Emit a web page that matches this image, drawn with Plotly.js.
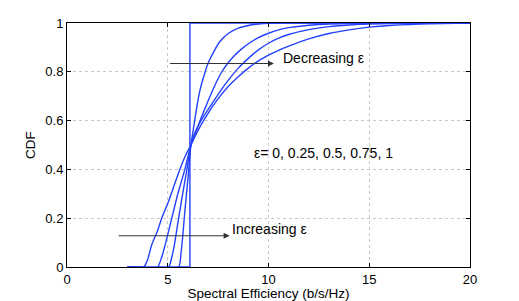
<!DOCTYPE html>
<html>
<head>
<meta charset="utf-8">
<script src="https://cdn.plot.ly/plotly-3.0.1.min.js"></script>
<style>html,body{margin:0;padding:0;background:#fff;}#chart{width:519px;height:301px;}</style>
</head>
<body>
<div id="chart"></div>
<script>
// eps = 0 (ideal step)
const x_e0 = [3, 6.1, 6.1, 20];
const y_e0 = [0, 0, 1, 1];
// eps = 0.25
const x_e25 = [3, 5.55, 5.65, 5.75, 5.85, 6.0, 6.15, 6.3, 6.45, 6.6, 6.8, 7.0, 7.3, 7.6, 8.0, 8.5, 9.0, 9.5, 10, 11, 20];
const y_e25 = [0, 0, 0.05, 0.13, 0.23, 0.36, 0.5, 0.58, 0.66, 0.725, 0.785, 0.835, 0.885, 0.925, 0.957, 0.979, 0.99, 0.996, 0.999, 1, 1];
// eps = 0.5
const x_e50 = [3, 5.05, 5.2, 5.35, 5.5, 5.7, 5.95, 6.15, 6.4, 6.65, 6.9, 7.1, 7.4, 7.65, 7.95, 8.3, 8.7, 9.0, 9.5, 10, 10.5, 11, 12, 13, 15, 20];
const y_e50 = [0, 0, 0.04, 0.1, 0.18, 0.28, 0.4, 0.5, 0.555, 0.61, 0.66, 0.7, 0.755, 0.795, 0.832, 0.866, 0.896, 0.915, 0.94, 0.958, 0.972, 0.981, 0.991, 0.996, 0.999, 1];
// eps = 0.75
const x_e75 = [3, 4.5, 4.7, 4.9, 5.2, 5.5, 5.85, 6.15, 6.4, 6.8, 7.2, 7.6, 8.0, 8.5, 9.0, 9.5, 10.0, 10.5, 11, 12, 13, 14, 15, 17, 20];
const y_e75 = [0, 0, 0.04, 0.1, 0.2, 0.3, 0.4, 0.5, 0.56, 0.62, 0.67, 0.72, 0.765, 0.815, 0.855, 0.89, 0.917, 0.938, 0.953, 0.973, 0.985, 0.992, 0.996, 0.999, 1];
// eps = 1
const x_e100 = [3, 3.8, 4.0, 4.2, 4.5, 4.7, 5.0, 5.3, 5.6, 5.9, 6.15, 6.5, 7.0, 7.5, 8.0, 8.5, 9.0, 9.5, 10.0, 10.5, 11.0, 12.0, 13.0, 14.0, 15.0, 16.0, 17.0, 18.0, 20];
const y_e100 = [0, 0, 0.03, 0.09, 0.15, 0.2, 0.26, 0.33, 0.4, 0.46, 0.5, 0.56, 0.63, 0.69, 0.74, 0.78, 0.815, 0.845, 0.868, 0.888, 0.905, 0.935, 0.957, 0.972, 0.983, 0.99, 0.994, 0.997, 1];

const xTicks = [0, 5, 10, 15, 20];
const yTicks = [0, 0.2, 0.4, 0.6, 0.8, 1];
const yTickText = ['0', '0.2', '0.4', '0.6', '0.8', '1'];

const lineColor = 'rgb(35,65,255)';
const series = [[x_e0, y_e0], [x_e25, y_e25], [x_e50, y_e50], [x_e75, y_e75], [x_e100, y_e100]];
const data = series.map(s => ({
  x: s[0], y: s[1], type: 'scatter', mode: 'lines',
  line: {color: lineColor, width: 1.4, shape: 'spline', smoothing: 0.4},
  hoverinfo: 'skip', showlegend: false
}));
data[0].line.shape = 'linear';

const fam = 'Liberation Sans, Arial, sans-serif';
const tickFnt = {family: fam, size: 13, color: '#000'};
const titleFnt = {family: fam, size: 13.5, color: '#000'};
const annFnt = {family: fam, size: 14, color: '#000'};
const axisCommon = {
  showline: true, linecolor: '#000', linewidth: 1, mirror: 'ticks',
  ticks: 'inside', ticklen: 4, tickcolor: '#000', tickwidth: 1,
  showgrid: true, gridcolor: '#c8c8c8', griddash: 'dot', gridwidth: 1,
  zeroline: false, tickfont: tickFnt, fixedrange: true
};

const layout = {
  width: 519, height: 301,
  margin: {l: 67, r: 49, t: 23, b: 34},
  paper_bgcolor: '#fff', plot_bgcolor: '#fff',
  font: tickFnt,
  xaxis: Object.assign({}, axisCommon, {
    range: [0, 20], tickvals: xTicks, ticktext: xTicks.map(String),
    title: {text: 'Spectral Efficiency (b/s/Hz)', font: titleFnt, standoff: 0}
  }),
  yaxis: Object.assign({}, axisCommon, {
    range: [0, 1], tickvals: yTicks, ticktext: yTickText,
    title: {text: 'CDF', font: titleFnt, standoff: 6}
  }),
  annotations: [
    {x: 10.27, y: 0.834, ax: 5.04, ay: 0.834, xref: 'x', yref: 'y', axref: 'x', ayref: 'y',
     text: '', showarrow: true, arrowhead: 2, arrowsize: 1.2, arrowwidth: 1, arrowcolor: '#333', standoff: 0, startstandoff: 0},
    {x: 8.07, y: 0.128, ax: 2.49, ay: 0.128, xref: 'x', yref: 'y', axref: 'x', ayref: 'y',
     text: '', showarrow: true, arrowhead: 2, arrowsize: 1.2, arrowwidth: 1, arrowcolor: '#333', standoff: 0, startstandoff: 0},
    {x: 10.6, y: 0.857, xref: 'x', yref: 'y', xanchor: 'left', yanchor: 'middle',
     text: 'Decreasing ε', showarrow: false, font: annFnt},
    {x: 8.1, y: 0.155, xref: 'x', yref: 'y', xanchor: 'left', yanchor: 'middle',
     text: 'Increasing ε', showarrow: false, font: annFnt},
    {x: 9.2, y: 0.469, xref: 'x', yref: 'y', xanchor: 'left', yanchor: 'middle',
     text: 'ε= 0, 0.25, 0.5, 0.75, 1', showarrow: false, font: annFnt}
  ]
};

Plotly.newPlot('chart', data, layout, {staticPlot: true, displayModeBar: false});
</script>
</body>
</html>
